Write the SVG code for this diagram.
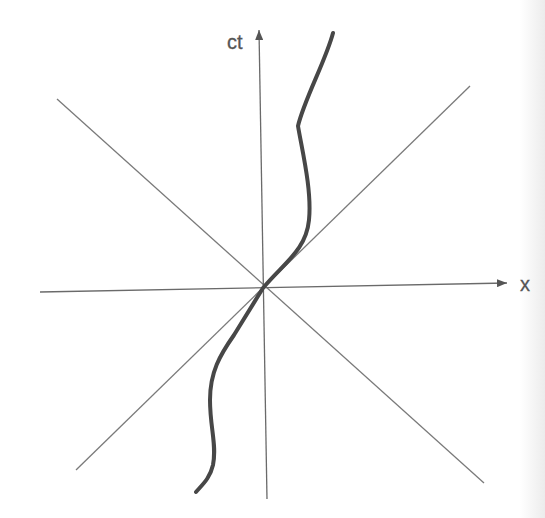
<svg xmlns="http://www.w3.org/2000/svg" width="545" height="518" viewBox="0 0 545 518">
<style>
.thin{stroke:#7a7a7a;stroke-width:1.3;fill:none}
.axis{stroke:#6a6a6a;stroke-width:1.3;fill:none}
.world{stroke:#474747;stroke-width:4;fill:none;stroke-linecap:round;stroke-linejoin:round}
.lbl{font-family:"Liberation Sans",Arial,sans-serif;font-size:20px;fill:#555;stroke:#555;stroke-width:0.3}
</style>
<defs>
<marker id="arr" viewBox="0 0 10 8" refX="10" refY="4" markerWidth="10" markerHeight="8" markerUnits="userSpaceOnUse" orient="auto">
<path d="M0,0 L10,4 L0,8 Z" fill="#555"/>
</marker>
<linearGradient id="edge" x1="0" y1="0" x2="1" y2="0">
<stop offset="0" stop-color="#ffffff"/>
<stop offset="1" stop-color="#ececec"/>
</linearGradient>
</defs>
<rect width="545" height="518" fill="#ffffff"/>
<rect x="520" y="0" width="25" height="518" fill="url(#edge)"/>
<g id="connectors">
<line class="thin" x1="57" y1="99" x2="484" y2="483"/>
<line class="thin" x1="470" y1="86" x2="76" y2="470"/>
<line class="axis" x1="40" y1="292" x2="507" y2="283" marker-end="url(#arr)"/>
<line class="axis" x1="267" y1="499" x2="259" y2="30" marker-end="url(#arr)"/>
</g>
<g id="worldline">
<path class="world" d="M333,33 C326,60 304,100 298,126 C302,150 312,190 309,220 C306,250 285,262 263,288 L234,335 C220,355 210,372 210,400 C210,428 217,445 213,465 C210,478 203,484 196,492"/>
</g>
<g id="label-ct"><text class="lbl" x="227" y="49">ct</text></g>
<g id="label-x"><text class="lbl" x="520" y="291">x</text></g>
</svg>
